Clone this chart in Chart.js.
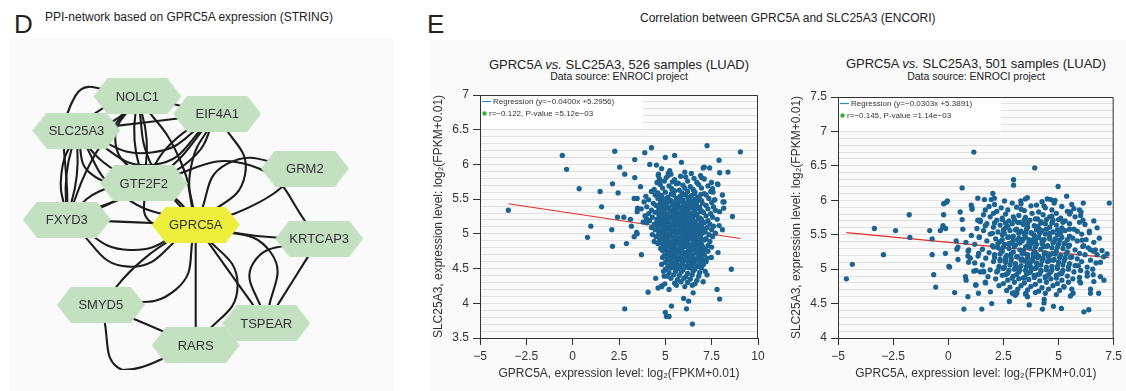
<!DOCTYPE html>
<html>
<head>
<meta charset="utf-8">
<script src="https://cdn.jsdelivr.net/npm/chart.js@4.4.1/dist/chart.umd.min.js"></script>
<style>
  body { margin: 0; width: 1126px; height: 391px; position: relative; overflow: hidden; background: #fff;
         font-family: "Liberation Sans", Arial, sans-serif; color: #222; }
  .t { position: absolute; white-space: nowrap; line-height: 1; }
  .c { text-align: center; width: 400px; }
  canvas { position: absolute; }
  .bg { position: absolute; background: #fafafa; }
</style>
</head>
<body>
<div class="bg" style="left:9px;top:38px;width:384px;height:353px"></div>
<div class="bg" style="left:430px;top:40px;width:696px;height:351px"></div>

<div class="t" style="left:14px;top:11px;font-size:26px">D</div>
<div class="t" style="left:45px;top:11px;font-size:12px">PPI-network based on GPRC5A expression (STRING)</div>
<div class="t" style="left:427px;top:11px;font-size:26px">E</div>
<div class="t" style="left:640px;top:12px;font-size:12px">Correlation between GPRC5A and SLC25A3 (ENCORI)</div>

<div class="t c" style="left:419px;top:58px;font-size:13px">GPRC5A <i>vs.</i> SLC25A3, 526 samples (LUAD)</div>
<div class="t c" style="left:419px;top:71px;font-size:10.5px">Data source: ENROCI project</div>
<div class="t c" style="left:776px;top:57px;font-size:13px">GPRC5A <i>vs.</i> SLC25A3, 501 samples (LUAD)</div>
<div class="t c" style="left:776px;top:71px;font-size:10.5px">Data source: ENROCI project</div>

<canvas id="net" width="400" height="351" style="left:0;top:40px"></canvas>
<canvas id="luadA" width="345" height="351" style="left:425px;top:40px"></canvas>
<canvas id="luadB" width="344" height="351" style="left:782px;top:40px"></canvas>

<script>
Chart.defaults.font.family = '"Liberation Sans", Arial, sans-serif';
Chart.defaults.color = '#333';

// ---- network (panel D) ----
var nodeNames = ['NOLC1', 'EIF4A1', 'SLC25A3', 'GRM2', 'GTF2F2', 'FXYD3', 'GPRC5A', 'KRTCAP3', 'SMYD5', 'TSPEAR', 'RARS'];
var nodeX = [32.5, 54.8, 15.5, 79.3, 34.3, 12.8, 48.8, 83.3, 22.3, 68.5, 48.8];
var nodeY = [11.4, 17.1, 22.5, 34.8, 39.6, 51.3, 53.0, 57.5, 78.9, 84.9, 92.0];
var queryNode = 'GPRC5A';

var edgeFrom = ['FXYD3', 'GPRC5A', 'GPRC5A', 'GPRC5A', 'GPRC5A', 'GPRC5A', 'EIF4A1', 'EIF4A1', 'NOLC1', 'NOLC1',
  'GTF2F2', 'GTF2F2', 'NOLC1', 'SLC25A3', 'SLC25A3', 'SLC25A3', 'SLC25A3', 'SLC25A3', 'NOLC1', 'NOLC1',
  'NOLC1', 'EIF4A1', 'EIF4A1', 'SLC25A3', 'SLC25A3', 'GTF2F2', 'GRM2', 'KRTCAP3', 'KRTCAP3', 'GPRC5A',
  'SMYD5', 'SMYD5', 'RARS', 'SMYD5', 'FXYD3', 'FXYD3', 'FXYD3', 'FXYD3', 'FXYD3', 'FXYD3',
  'FXYD3', 'SLC25A3', 'NOLC1', 'EIF4A1', 'SLC25A3'];
var edgeTo = ['GPRC5A', 'KRTCAP3', 'RARS', 'TSPEAR', 'SMYD5', 'GRM2', 'GPRC5A', 'GPRC5A', 'GPRC5A', 'GPRC5A',
  'GPRC5A', 'GPRC5A', 'EIF4A1', 'EIF4A1', 'EIF4A1', 'EIF4A1', 'NOLC1', 'NOLC1', 'GTF2F2', 'GTF2F2',
  'GTF2F2', 'GTF2F2', 'GTF2F2', 'GTF2F2', 'GTF2F2', 'KRTCAP3', 'GPRC5A', 'TSPEAR', 'TSPEAR', 'TSPEAR',
  'RARS', 'RARS', 'GPRC5A', 'GPRC5A', 'SLC25A3', 'SLC25A3', 'NOLC1', 'GTF2F2', 'GTF2F2', 'GPRC5A',
  'GPRC5A', 'FXYD3', 'FXYD3', 'FXYD3', 'GPRC5A'];
// sideways bulge of each edge, as a share of its length
var edgeBend = [0, 0.04, 0, 0, 0.06, 0.08, 0.12, -0.3, 0.1, -0.08,
  -0.12, 0.4, 0, 0, 0.35, 0.25, 0.15, -0.1, 0.06, -0.06,
  0.25, 0.1, -0.15, 0.3, 0.1, -0.3, 0.35, 0, 0.4, -0.35,
  0, 0.55, 0.3, 0.3, 0.05, -0.05, -0.35, 0.05, -0.15, 0.25,
  0.4, 0.1, 0.05, -0.1, 0.15];
// shift of the bulge along the edge (only the long left arc uses it)
var edgeShift = [0, 0, 0, 0, 0, 0, 0, 0, 0, 0,
  0, 0, 0, 0, 0, 0, 0, 0, 0, 0,
  0, 0, 0, 0, 0, 0, 0, 0, 0, 0,
  0, 0, 0, 0, 0, 0, 0.33, 0, 0, 0,
  0, 0, 0, 0, 0];

function hexagon(fill) {
  var c = document.createElement('canvas');
  c.width = 88; c.height = 36;
  var g = c.getContext('2d');
  g.fillStyle = fill;
  g.beginPath();
  g.moveTo(0, 18); g.lineTo(14, 0); g.lineTo(74, 0); g.lineTo(88, 18); g.lineTo(74, 36); g.lineTo(14, 36);
  g.closePath();
  g.fill();
  return c;
}
var greenHex = hexagon('#c3e0c1');
var yellowHex = hexagon('#eeee3c');

function edgePoints(i) {
  var a = nodeNames.indexOf(edgeFrom[i]);
  var b = nodeNames.indexOf(edgeTo[i]);
  var dx = nodeX[b] - nodeX[a], dy = nodeY[b] - nodeY[a];
  var k = edgeBend[i], s = edgeShift[i];
  return [
    {x: nodeX[a], y: nodeY[a]},
    {x: (nodeX[a] + nodeX[b]) / 2 - dy * k + dx * s, y: (nodeY[a] + nodeY[b]) / 2 + dx * k + dy * s},
    {x: nodeX[b], y: nodeY[b]}
  ];
}

var netSets = [{
  data: nodeNames.map(function (n, i) { return {x: nodeX[i], y: nodeY[i]}; }),
  pointStyle: nodeNames.map(function (n) { return n === queryNode ? yellowHex : greenHex; }),
  pointRadius: 20,
  order: 0
}];
for (var i = 0; i < edgeFrom.length; i++) {
  netSets.push({
    data: edgePoints(i),
    showLine: true,
    tension: 0.5,
    borderColor: '#1c1c1c',
    borderWidth: 2.1,
    pointRadius: 0,
    order: 1
  });
}

var nodeLabels = {
  id: 'nodeLabels',
  afterDatasetsDraw: function (chart) {
    var ctx = chart.ctx;
    var meta = chart.getDatasetMeta(0);
    ctx.save();
    ctx.font = '13px "Liberation Sans", Arial, sans-serif';
    ctx.fillStyle = '#333';
    ctx.textAlign = 'center';
    ctx.textBaseline = 'middle';
    meta.data.forEach(function (pt, i) { ctx.fillText(nodeNames[i], pt.x, pt.y + 1); });
    ctx.restore();
  }
};

new Chart(document.getElementById('net'), {
  type: 'scatter',
  data: {datasets: netSets},
  options: {
    responsive: false, animation: false, events: [], devicePixelRatio: 1,
    layout: {padding: 0},
    scales: {
      x: {display: false, min: 0, max: 100},
      y: {display: false, min: 0, max: 100, reverse: true}
    },
    plugins: {legend: {display: false}, tooltip: {enabled: false}}
  },
  plugins: [nodeLabels]
});

// ---- scatter plots (panel E) ----
var luad526 = [
  [-3.47,5.34],[-0.56,6.13],[-0.33,5.93],[0.35,5.65],[0.80,4.95],[0.98,5.11],[1.48,5.61],[1.56,5.39],[2.11,5.06],[2.15,4.82],
  [2.15,5.72],[2.27,6.19],[2.45,5.59],[2.54,5.96],[2.81,5.86],[2.42,5.24],[2.76,5.24],[2.90,4.86],[2.81,3.92],[3.12,5.21],
  [3.17,5.11],[3.35,6.07],[3.35,5.81],[3.48,5.51],[3.66,5.68],[3.71,4.70],[3.89,6.17],[4.25,6.24],[4.16,6.0],[4.07,4.16],
  [3.32,4.96],[3.48,5.0],[3.48,5.32],[3.8,5.17],[3.98,5.22],[7.25,6.27],[9.05,6.18],[7.9,6.06],[7.93,5.88],[8.38,5.89],
  [7.39,5.95],[7.04,5.95],[6.95,5.81],[7.57,5.6],[7.84,5.71],[8.08,5.56],[8.11,5.46],[8.15,5.37],[7.93,5.32],[8.62,5.25],
  [8.08,5.06],[7.9,5.12],[8.56,4.49],[7.84,4.73],[7.79,4.2],[7.93,4.06],[7.48,4.66],[7.25,4.41],[7.04,4.31],[6.46,3.70],
  [6.14,3.92],[6.26,4.03],[5.99,4.07],[6.5,4.15],[5.0,3.87],[5.06,3.81],[5.2,3.81],[5.33,3.96],[5.2,4.2],[4.81,4.24],
  [4.97,4.28],[4.48,4.36],[4.61,4.22],[5.0,6.1],[5.5,6.13],[5.87,6.03],[4.52,5.99],[4.63,5.86],[4.7,5.77],[5.24,5.91],
  [5.15,5.84],[6.05,5.89],[4.8,5.94],[5.16,5.87],[7.1,5.96],[7.49,5.74],[7.81,5.72],[8.17,5.46],[7.67,5.49],[4.8,4.25],
  [4.94,4.39],[3.45,5.02],[3.5,5.37],[3.32,5.51],
  [4.62,5.84],[5.3,5.86],[5.82,5.83],[6.4,5.87],[6.9,5.84],
  [4.68,5.79],[5.05,5.81],[5.5,5.78],[6.1,5.82],[6.55,5.8],[7.1,5.79],
  [4.55,5.74],[4.95,5.76],[5.38,5.75],[5.7,5.73],[6.2,5.76],[6.7,5.74],
  [4.72,5.71],[5.2,5.69],[5.6,5.72],[5.95,5.7],[6.35,5.68],[6.8,5.71],[7.3,5.69],
  [4.4,5.64],[4.85,5.66],[5.35,5.65],[5.75,5.63],[6.05,5.66],[6.5,5.64],[6.95,5.66],[7.55,5.65],
  [4.25,5.61],[4.6,5.59],[5.0,5.6],[5.5,5.62],[5.9,5.59],[6.2,5.61],[6.6,5.6],[7.1,5.58],[7.45,5.61],
  [3.95,5.54],[4.45,5.56],[4.8,5.55],[5.15,5.53],[5.45,5.56],[5.8,5.54],[6.1,5.56],[6.4,5.55],[6.75,5.53],[7.2,5.56],
  [4.1,5.49],[4.6,5.51],[4.95,5.5],[5.3,5.48],[5.6,5.51],[5.95,5.49],[6.3,5.51],[6.6,5.5],[6.95,5.48],[7.35,5.51],[7.65,5.49],
  [3.85,5.46],[4.35,5.44],[4.75,5.46],[5.1,5.45],[5.4,5.43],[5.7,5.46],[6.05,5.44],[6.4,5.45],[6.7,5.47],[7.0,5.44],[7.5,5.45],
  [4.0,5.39],[4.5,5.41],[4.85,5.4],[5.2,5.38],[5.5,5.41],[5.85,5.39],[6.15,5.41],[6.5,5.4],[6.85,5.38],[7.2,5.41],[7.6,5.39],
  [3.7,5.36],[4.25,5.34],[4.65,5.36],[5.0,5.35],[5.3,5.33],[5.6,5.36],[5.95,5.34],[6.25,5.36],[6.6,5.35],[6.95,5.33],[7.3,5.36],[7.7,5.34],
  [4.1,5.29],[4.45,5.31],[4.8,5.3],[5.1,5.28],[5.45,5.31],[5.75,5.29],[6.05,5.31],[6.4,5.3],[6.7,5.28],[7.05,5.31],[7.45,5.29],
  [3.9,5.26],[4.3,5.24],[4.65,5.26],[4.95,5.25],[5.25,5.23],[5.55,5.26],[5.85,5.24],[6.2,5.26],[6.5,5.25],[6.85,5.23],[7.2,5.26],[7.55,5.24],
  [4.15,5.19],[4.55,5.21],[4.85,5.2],[5.15,5.18],[5.45,5.21],[5.7,5.19],[6.0,5.21],[6.3,5.2],[6.6,5.18],[6.95,5.21],[7.3,5.19],[7.8,5.21],
  [4.0,5.16],[4.4,5.14],[4.7,5.16],[5.0,5.15],[5.3,5.13],[5.6,5.16],[5.9,5.14],[6.15,5.16],[6.45,5.15],[6.75,5.13],[7.1,5.16],[7.4,5.14],
  [4.25,5.09],[4.6,5.11],[4.9,5.1],[5.2,5.08],[5.5,5.11],[5.8,5.09],[6.05,5.11],[6.35,5.1],[6.65,5.08],[6.95,5.11],[7.25,5.09],[7.6,5.11],
  [4.45,5.06],[4.75,5.04],[5.05,5.06],[5.35,5.05],[5.65,5.03],[5.95,5.06],[6.25,5.04],[6.55,5.06],[6.85,5.05],[7.15,5.03],[7.5,5.06],
  [4.3,4.99],[4.65,5.01],[4.95,5.0],[5.25,4.98],[5.55,5.01],[5.85,4.99],[6.1,5.01],[6.4,5.0],[6.7,4.98],[7.0,5.01],[7.35,4.99],[7.7,5.01],
  [4.5,4.96],[4.85,4.94],[5.1,4.96],[5.4,4.95],[5.7,4.93],[6.0,4.96],[6.3,4.94],[6.6,4.96],[6.9,4.95],[7.2,4.93],[7.55,4.96],
  [4.4,4.89],[4.7,4.91],[5.0,4.9],[5.3,4.88],[5.6,4.91],[5.9,4.89],[6.2,4.91],[6.5,4.9],[6.8,4.88],[7.1,4.91],[7.4,4.89],
  [4.6,4.86],[4.9,4.84],[5.2,4.86],[5.5,4.85],[5.8,4.83],[6.05,4.86],[6.35,4.84],[6.65,4.86],[6.95,4.85],[7.3,4.83],
  [4.75,4.79],[5.05,4.81],[5.35,4.8],[5.65,4.78],[5.95,4.81],[6.25,4.79],[6.55,4.81],[6.85,4.8],[7.15,4.78],[7.5,4.81],
  [4.85,4.76],[5.15,4.74],[5.45,4.76],[5.75,4.75],[6.1,4.73],[6.4,4.76],[6.7,4.74],[7.0,4.76],[7.3,4.75],
  [4.95,4.69],[5.25,4.71],[5.55,4.7],[5.85,4.68],[6.15,4.71],[6.5,4.69],[6.8,4.71],[7.1,4.7],
  [4.85,4.66],[5.1,4.64],[5.4,4.66],[5.7,4.65],[6.0,4.63],[6.3,4.66],[6.6,4.64],[6.95,4.66],[7.25,4.65],
  [5.0,4.59],[5.3,4.61],[5.6,4.6],[5.9,4.58],[6.25,4.61],[6.55,4.59],[6.85,4.61],[7.2,4.6],
  [4.8,4.56],[5.15,4.54],[5.45,4.56],[5.8,4.55],[6.1,4.53],[6.4,4.56],[6.75,4.54],[7.05,4.56],
  [5.0,4.49],[5.3,4.51],[5.65,4.5],[5.95,4.48],[6.3,4.51],[6.6,4.49],[6.95,4.51],
  [4.9,4.46],[5.2,4.44],[5.55,4.46],[5.85,4.45],[6.2,4.43],[6.5,4.46],[6.85,4.44],[7.15,4.46],
  [5.1,4.39],[5.45,4.41],[5.75,4.4],[6.1,4.38],[6.45,4.41],[6.8,4.39],
  [5.3,4.36],[5.65,4.34],[6.0,4.36],[6.35,4.35],[6.7,4.33],
  [5.5,4.29],[5.85,4.31],[6.2,4.3],[6.6,4.28],
  [5.6,4.26],[6.05,4.24],[6.45,4.26],
  [4.62,5.57],[5.32,5.58],[5.97,5.57],[6.57,5.58],[6.92,5.57],
  [4.77,5.52],[5.12,5.52],[5.77,5.53],[6.22,5.52],[6.82,5.52],
  [4.97,5.47],[5.27,5.47],[5.57,5.48],[5.87,5.47],[6.22,5.47],[6.57,5.48],
  [4.67,5.42],[5.02,5.42],[5.37,5.43],[5.67,5.42],[6.0,5.42],[6.32,5.43],[6.67,5.42],
  [4.82,5.37],[5.15,5.37],[5.47,5.38],[5.8,5.37],[6.1,5.37],[6.42,5.38],[6.77,5.37],
  [4.62,5.32],[4.97,5.32],[5.27,5.33],[5.6,5.32],[5.9,5.32],[6.22,5.33],[6.55,5.32],[6.88,5.32],
  [4.8,5.27],[5.1,5.27],[5.4,5.28],[5.7,5.27],[6.02,5.27],[6.35,5.28],[6.67,5.27],
  [4.7,5.22],[5.0,5.22],[5.3,5.23],[5.58,5.22],[5.85,5.22],[6.15,5.23],[6.45,5.22],[6.78,5.22],
  [4.55,5.17],[4.85,5.17],[5.15,5.18],[5.45,5.17],[5.75,5.17],[6.02,5.18],[6.3,5.17],[6.6,5.17],[6.92,5.18],
  [4.75,5.12],[5.05,5.12],[5.35,5.13],[5.65,5.12],[5.92,5.12],[6.2,5.13],[6.5,5.12],[6.8,5.12],
  [4.6,5.07],[4.9,5.07],[5.2,5.08],[5.5,5.07],[5.8,5.07],[6.1,5.08],[6.4,5.07],[6.7,5.07],[7.0,5.08],
  [4.8,5.02],[5.1,5.02],[5.4,5.03],[5.7,5.02],[5.98,5.02],[6.25,5.03],[6.55,5.02],[6.85,5.02],
  [4.68,4.97],[4.98,4.97],[5.25,4.98],[5.55,4.97],[5.85,4.97],[6.15,4.98],[6.45,4.97],[6.75,4.97],
  [4.85,4.92],[5.15,4.92],[5.45,4.93],[5.75,4.92],[6.05,4.92],[6.35,4.93],[6.65,4.92],[6.95,4.92],
  [4.75,4.87],[5.05,4.87],[5.35,4.88],[5.65,4.87],[5.95,4.87],[6.2,4.88],[6.5,4.87],[6.8,4.87],
  [4.9,4.82],[5.2,4.82],[5.5,4.83],[5.8,4.82],[6.1,4.82],[6.4,4.83],[6.7,4.82],[7.0,4.82],
  [5.0,4.77],[5.3,4.77],[5.6,4.78],[5.9,4.77],[6.25,4.77],[6.55,4.78],[6.85,4.77],
  [5.1,4.72],[5.4,4.72],[5.7,4.73],[6.0,4.72],[6.3,4.72],[6.65,4.73],[6.95,4.72],
  [5.25,4.67],[5.55,4.67],[5.85,4.68],[6.15,4.67],[6.45,4.67],[6.8,4.68],
  [5.15,4.62],[5.45,4.62],[5.75,4.63],[6.1,4.62],[6.4,4.62],[6.7,4.63],[7.05,4.62],
  [5.3,4.57],[5.6,4.57],[5.95,4.58],[6.25,4.57],[6.6,4.57],[6.9,4.58],
  [5.15,4.52],[5.5,4.52],[5.8,4.53],[6.15,4.52],[6.45,4.52],[6.8,4.53]
];

var luad501 = [
  [-4.62,4.86],[-4.35,5.07],[-3.35,5.59],[-2.94,5.21],[-2.39,5.56],[-1.77,5.79],[-1.74,5.46],[-0.84,5.56],[-0.73,5.44],[-0.73,5.21],
  [-0.66,4.92],[-0.57,4.74],[-0.36,5.56],[-0.21,5.95],[-0.09,5.97],[-0.21,5.79],[-0.24,5.61],[-0.13,5.23],[0.06,5.03],[0.29,4.66],
  [0.44,5.32],[0.36,5.41],[0.54,5.83],[0.63,6.18],[0.63,5.72],[0.66,5.58],[0.71,4.42],[0.78,4.89],[0.81,4.84],[0.89,4.6],
  [0.92,5.1],[1.0,5.16],[1.07,5.9],[1.08,5.87],[1.16,6.70],[1.16,4.97],[1.24,4.77],[1.34,6.03],[1.37,4.65],[1.45,5.71],
  [1.52,4.42],[1.46,4.96],[1.61,4.96],[1.69,4.8],[1.91,4.67],[1.97,4.5],[2.02,6.1],[2.96,6.3],[2.96,6.22],[3.92,6.47],
  [4.49,6.02],[4.98,6.2],[5.37,6.06],[7.3,5.96],[6.12,5.96],[7.2,5.22],[6.75,5.6],[6.14,5.34],[7.06,4.84],[6.9,4.89],
  [6.45,4.65],[6.82,4.65],[6.15,4.38],[6.37,4.41],[6.97,5.27],[5.54,4.61],[5.13,4.43],[4.77,4.46],[4.27,4.42],[4.35,4.56],
  [3.67,4.48],[3.52,4.65],[2.77,4.53],[3.04,4.62],
  [-0.04,5.99],[-0.24,5.63],[-0.12,5.59],[0.03,5.04],[0.39,5.29],[0.44,5.14],[0.89,5.19],[0.93,5.28],[1.04,5.93],[1.34,5.71],
  [1.41,5.47],[1.38,5.23],[1.26,4.98],[1.26,4.77],[1.68,4.81],[1.59,4.97],[1.68,5.63],[1.68,5.86],[1.64,6.01],[2.09,6.03],
  [6.45,5.28],[6.57,4.92],[6.45,4.71],[5.66,4.65],[5.96,4.82],[6.6,4.82],[6.67,5.28],[6.75,5.21],[6.07,5.42],[6.11,5.71],
  [6.02,5.83],[5.54,5.83],[4.84,6.0],[3.29,5.99],[3.59,6.04],[4.34,5.92],[4.34,4.51],[3.59,4.6],[2.91,4.65],[3.11,4.65],
  [5.24,4.75],[6.9,5.1],[6.55,5.0],[7.05,5.18],[6.85,5.45],[6.4,5.55],[6.6,5.7],[5.9,5.05],[6.3,4.9],
  [1.95,6.01],[2.55,5.99],[3.5,6.02],[4.25,5.98],[4.65,6.01],
  [2.1,5.94],[2.9,5.96],[3.3,5.95],[4.0,5.93],[4.8,5.96],[5.6,5.94],
  [1.85,5.91],[2.4,5.89],[3.1,5.9],[3.75,5.92],[4.4,5.89],[5.15,5.91],[5.7,5.88],
  [2.2,5.84],[2.7,5.86],[3.45,5.85],[4.1,5.83],[4.7,5.86],[5.4,5.84],[5.95,5.86],
  [1.6,5.79],[2.05,5.81],[2.6,5.8],[3.2,5.78],[3.8,5.81],[4.3,5.79],[4.9,5.81],[5.5,5.8],[6.0,5.78],
  [1.9,5.76],[2.45,5.74],[2.95,5.76],[3.5,5.75],[4.05,5.73],[4.6,5.76],[5.1,5.74],[5.75,5.76],
  [1.45,5.69],[2.2,5.71],[2.75,5.7],[3.25,5.68],[3.7,5.71],[4.2,5.69],[4.75,5.71],[5.3,5.7],[5.95,5.68],
  [1.75,5.66],[2.35,5.64],[2.9,5.66],[3.4,5.65],[3.9,5.63],[4.4,5.66],[4.9,5.64],[5.5,5.66],[6.2,5.65],
  [1.3,5.59],[2.05,5.61],[2.6,5.6],[3.1,5.58],[3.6,5.61],[4.1,5.59],[4.6,5.61],[5.15,5.6],[5.7,5.58],
  [1.6,5.56],[2.25,5.54],[2.8,5.56],[3.3,5.55],[3.75,5.53],[4.25,5.56],[4.75,5.54],[5.3,5.56],[5.85,5.55],[6.4,5.53],
  [1.05,5.49],[1.9,5.51],[2.45,5.5],[2.95,5.48],[3.45,5.51],[3.9,5.49],[4.4,5.51],[4.95,5.5],[5.5,5.48],[6.05,5.51],
  [1.4,5.46],[2.15,5.44],[2.7,5.46],[3.2,5.45],[3.65,5.43],[4.1,5.46],[4.6,5.44],[5.15,5.46],[5.65,5.45],[6.25,5.43],
  [0.8,5.39],[1.75,5.41],[2.35,5.4],[2.85,5.38],[3.35,5.41],[3.8,5.39],[4.3,5.41],[4.8,5.4],[5.3,5.38],[5.85,5.41],[6.6,5.39],
  [1.2,5.36],[2.0,5.34],[2.55,5.36],[3.05,5.35],[3.55,5.33],[4.0,5.36],[4.5,5.34],[5.0,5.36],[5.5,5.35],[6.1,5.33],
  [1.55,5.29],[2.25,5.31],[2.75,5.3],[3.25,5.28],[3.7,5.31],[4.2,5.29],[4.7,5.31],[5.2,5.3],[5.75,5.28],[6.35,5.31],
  [0.9,5.26],[1.85,5.24],[2.45,5.26],[2.95,5.25],[3.45,5.23],[3.9,5.26],[4.4,5.24],[4.9,5.26],[5.4,5.25],[5.95,5.23],[6.6,5.26],
  [1.35,5.19],[2.1,5.21],[2.65,5.2],[3.15,5.18],[3.6,5.21],[4.1,5.19],[4.6,5.21],[5.1,5.2],[5.6,5.18],[6.2,5.21],
  [1.7,5.16],[2.35,5.14],[2.85,5.16],[3.35,5.15],[3.8,5.13],[4.3,5.16],[4.8,5.14],[5.3,5.16],[5.85,5.15],[6.45,5.13],
  [1.2,5.09],[2.05,5.11],[2.6,5.1],[3.05,5.08],[3.55,5.11],[4.0,5.09],[4.5,5.11],[5.0,5.1],[5.5,5.08],[6.05,5.11],[6.7,5.09],
  [1.55,5.06],[2.3,5.04],[2.8,5.06],[3.3,5.05],[3.75,5.03],[4.2,5.06],[4.7,5.04],[5.2,5.06],[5.75,5.05],[6.3,5.03],
  [1.9,4.99],[2.5,5.01],[3.0,5.0],[3.5,4.98],[3.95,5.01],[4.45,4.99],[4.95,5.01],[5.45,5.0],[6.0,4.98],
  [2.2,4.96],[2.7,4.94],[3.2,4.96],[3.7,4.95],[4.15,4.93],[4.65,4.96],[5.15,4.94],[5.7,4.96],[6.3,4.95],
  [1.8,4.89],[2.45,4.91],[2.95,4.9],[3.45,4.88],[3.9,4.91],[4.4,4.89],[4.9,4.91],[5.4,4.9],[5.95,4.88],
  [2.15,4.86],[2.7,4.84],[3.2,4.86],[3.65,4.85],[4.15,4.83],[4.65,4.86],[5.15,4.84],[5.65,4.86],
  [2.5,4.79],[3.0,4.81],[3.45,4.8],[3.95,4.78],[4.45,4.81],[4.95,4.79],[5.45,4.81],[6.0,4.8],
  [2.3,4.76],[2.8,4.74],[3.3,4.76],[3.75,4.75],[4.25,4.73],[4.75,4.76],[5.25,4.74],
  [2.65,4.69],[3.15,4.71],[3.6,4.7],[4.1,4.68],[4.55,4.71],[5.05,4.69],[5.6,4.71],
  [3.0,4.66],[3.5,4.64],[3.95,4.66],[4.4,4.65],[4.9,4.63],
  [2.7,5.62],[3.2,5.52],[3.6,5.67],[3.95,5.42],[4.45,5.58],[2.9,5.38],[3.4,5.27],[3.85,5.17],[4.35,5.33],[4.85,5.22],
  [2.6,5.13],[3.1,5.02],[3.7,5.08],[4.2,4.97],[4.6,5.47],[3.0,5.72],[3.5,5.47],[4.05,5.62],[4.55,5.12],[3.3,5.87],
  [2.4,5.28],[5.05,5.42],[3.65,5.37],[4.7,5.77],[3.15,5.42],[3.8,5.52],[4.25,5.42],[2.75,5.47],[4.0,5.22],[3.45,5.12],
  [2.45,5.72],[3.45,5.72],[3.95,5.73],[4.45,5.72],[5.0,5.72],
  [2.1,5.67],[2.6,5.67],[3.15,5.68],[4.2,5.67],[4.7,5.67],[5.2,5.68],
  [2.5,5.57],[3.05,5.57],[3.55,5.58],[4.0,5.57],[4.95,5.57],[5.5,5.58],
  [2.0,5.52],[2.55,5.52],[3.5,5.53],[4.15,5.52],[4.6,5.52],[5.1,5.53],
  [2.45,5.43],[2.95,5.43],[3.4,5.44],[3.85,5.43],[4.35,5.43],[4.85,5.44],[5.4,5.43],
  [2.25,5.37],[2.75,5.37],[3.25,5.38],[3.75,5.37],[4.25,5.37],[4.75,5.38],[5.25,5.37],
  [2.05,5.32],[2.5,5.32],[3.0,5.33],[3.5,5.32],[3.95,5.32],[4.45,5.33],[4.95,5.32],[5.45,5.33],
  [2.35,5.22],[2.85,5.22],[3.35,5.23],[3.85,5.22],[4.35,5.22],[4.75,5.23],[5.35,5.22],
  [2.1,5.17],[2.6,5.17],[3.1,5.18],[3.6,5.17],[4.05,5.17],[4.55,5.18],[5.05,5.17],[5.55,5.17],
  [2.35,5.12],[2.85,5.12],[3.3,5.13],[3.8,5.12],[4.25,5.12],[4.75,5.13],[5.25,5.12],
  [2.55,5.03],[3.05,5.03],[3.55,5.04],[4.0,5.03],[4.45,5.03],[4.95,5.04],[5.45,5.03],
  [2.25,4.98],[2.75,4.98],[3.25,4.99],[3.75,4.98],[4.2,4.98],[4.7,4.99],[5.2,4.98],
  [2.6,4.92],[3.1,4.92],[3.55,4.93],[4.05,4.92],[4.55,4.92],[5.05,4.93],
  [2.9,4.87],[3.4,4.87],[3.9,4.88],[4.4,4.87],[4.9,4.87]
];

// regression line end points as drawn
var regLineA = [[-3.47, 5.434], [9.05, 4.933]];
var regLineB = [[-4.62, 5.529], [7.3, 5.168]];
var legendA = ['Regression (y=\u22120.0400x +5.2956)', 'r=\u22120.122, P-value =5.12e\u221203'];
var legendB = ['Regression (y=\u22120.0303x +5.3891)', 'r=\u22120.145, P-value =1.14e\u221203'];
var xTitle = 'GPRC5A, expression level: log\u2082(FPKM+0.01)';
var yTitle = 'SLC25A3, expression level: log\u2082(FPKM+0.01)';

function fmt(v) { return String(v).replace('-', '\u2212'); }
function isHalf(v) { return Math.abs(v * 2 - Math.round(v * 2)) < 1e-6; }

function toXY(arr) { return arr.map(function (p) { return {x: p[0], y: p[1]}; }); }

var frameAndLegend = {
  id: 'frameAndLegend',
  afterDatasetsDraw: function (chart, args, opts) {
    var ctx = chart.ctx, a = chart.chartArea;
    ctx.save();
    ctx.fillStyle = '#fff';
    ctx.fillRect(a.left + 1, a.top + 1, 162, 33);
    ctx.strokeStyle = '#2b8ad0';
    ctx.lineWidth = 1.2;
    ctx.beginPath();
    ctx.moveTo(a.left + 2, a.top + 6.5);
    ctx.lineTo(a.left + 11, a.top + 6.5);
    ctx.stroke();
    ctx.fillStyle = '#3aaa3a';
    ctx.beginPath();
    ctx.arc(a.left + 4.5, a.top + 18.5, 2.2, 0, Math.PI * 2);
    ctx.fill();
    ctx.fillStyle = '#333';
    ctx.font = '8px "Liberation Sans", Arial, sans-serif';
    ctx.textBaseline = 'middle';
    ctx.fillText(opts.labels[0], a.left + 13, a.top + 6.5);
    ctx.fillText(opts.labels[1], a.left + 9, a.top + 18.5);
    ctx.strokeStyle = '#333';
    ctx.lineWidth = 1;
    ctx.beginPath();
    ctx.moveTo(a.left, a.top + 0.5);
    ctx.lineTo(a.right - 0.5, a.top + 0.5);
    ctx.lineTo(a.right - 0.5, a.bottom);
    ctx.stroke();
    ctx.restore();
  }
};

function scatterChart(id, points, regLine, legend, xMin, xMax, yMin, yMax, padTop, padRight, yWidth, yTitlePad) {
  return new Chart(document.getElementById(id), {
    type: 'scatter',
    data: {
      datasets: [{
        data: toXY(points),
        pointRadius: 2.65,
        pointBorderWidth: 0,
        pointBackgroundColor: '#1b6392',
        order: 0
      }, {
        data: toXY(regLine),
        showLine: true,
        borderColor: '#e0302a',
        borderWidth: 1.2,
        pointRadius: 0,
        order: 1
      }]
    },
    options: {
      responsive: false, animation: false, events: [], devicePixelRatio: 1,
      layout: {padding: {top: padTop, right: padRight, left: 0, bottom: 0}},
      scales: {
        x: {
          type: 'linear', min: xMin, max: xMax,
          ticks: {stepSize: 2.5, autoSkip: false, maxRotation: 0, padding: 4, color: '#333',
                  font: {size: 12}, callback: function (v) { return fmt(v); }},
          grid: {drawOnChartArea: false, tickLength: 7, tickColor: '#333'},
          border: {color: '#333'},
          title: {display: true, text: xTitle, color: '#333', font: {size: 12}, padding: {top: 0, bottom: 10}},
          afterFit: function (s) { s.height = 53; }
        },
        y: {
          min: yMin, max: yMax,
          ticks: {stepSize: 0.1, autoSkip: false, padding: 4, color: '#333', font: {size: 12},
                  callback: function (v) { return isHalf(v) ? fmt(v) : ''; }},
          grid: {color: '#e1e1e1', lineWidth: 1, tickLength: 7,
                 tickColor: function (c) { return isHalf(c.tick.value) ? '#333' : 'rgba(0,0,0,0)'; }},
          border: {color: '#333'},
          title: {display: true, text: yTitle, color: '#333', font: {size: 12}, padding: {top: yTitlePad, bottom: 0}},
          afterFit: function (s) { s.width = yWidth; }
        }
      },
      plugins: {legend: {display: false}, tooltip: {enabled: false}, frameAndLegend: {labels: legend}}
    },
    plugins: [frameAndLegend]
  });
}

scatterChart('luadA', luad526, regLineA, legendA, -5, 10, 3.5, 7, 55, 12, 55, 6);
scatterChart('luadB', luad501, regLineB, legendB, -5, 7.5, 4, 7.5, 57, 11, 56, 7);
</script>
</body>
</html>
